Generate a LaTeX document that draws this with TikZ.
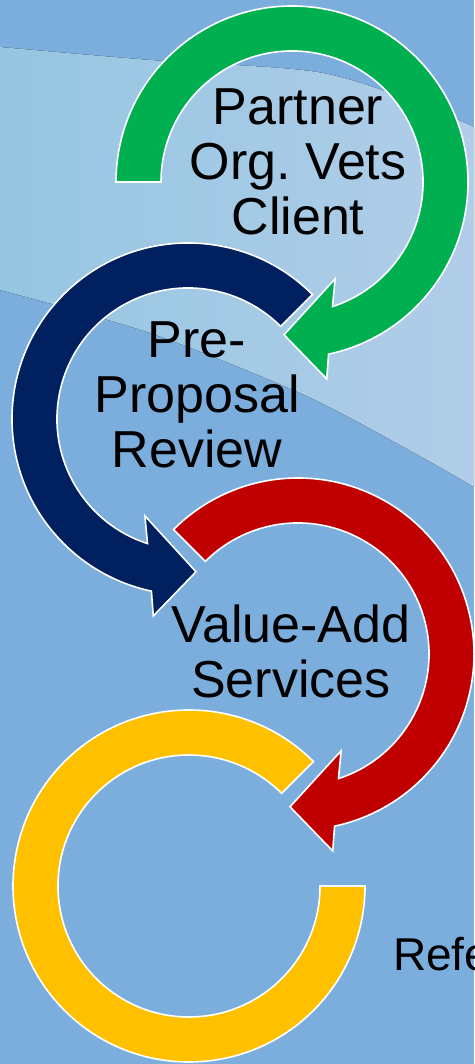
\documentclass[tikz,border=0pt]{standalone}
\usepackage{fontspec}
\setmainfont{Liberation Sans}
\frenchspacing
\definecolor{bgblue}{HTML}{7BAEDC}
\definecolor{swooshL}{HTML}{95C6E2}
\definecolor{swooshR}{HTML}{B1CDE8}
\definecolor{stepgreen}{HTML}{00B050}
\definecolor{stepnavy}{HTML}{002060}
\definecolor{stepred}{HTML}{C00000}
\definecolor{stepyellow}{HTML}{FFC000}
\tikzset{
    ringarrow/.style={draw=white, line width=1.6pt, line join=miter},
    steplabel/.style={align=center, inner sep=0pt, font=\fontsize{52}{55}\selectfont},
}

\begin{document}
\begin{tikzpicture}[x=1pt, y=1pt]
    \useasboundingbox (0,0) rectangle (474,1064);
    \clip (0,0) rectangle (474,1064);
    % background
    \fill[bgblue] (0,0) rectangle (474,1064);
    \fill[left color=swooshL, right color=swooshR]
        plot[smooth] coordinates {(0,1017) (150,1004) (317,992) (417,961) (474,937)}
        -- plot[smooth] coordinates {(474,577) (400,619) (300,671) (150,731) (0,774)} -- cycle;

    % green, clockwise
    \begin{scope}[shift={(292,882)}]
    \draw[ringarrow, fill=stepgreen] (180:176) arc[start angle=180, end angle=-78, radius=176]
        -- (-80:200) -- (-93:153) -- (-66:106) -- (-72:131)
        arc[start angle=-72, end angle=180, radius=131] -- cycle;
    \end{scope}

    % navy, counter clockwise
    \begin{scope}[shift={(188,645)}]
    \draw[ringarrow, fill=stepnavy] (45:176) arc[start angle=45, end angle=258, radius=176]
        -- (260:200) -- (273:153) -- (246:106) -- (252:131)
        arc[start angle=252, end angle=45, radius=131] -- cycle;
    \end{scope}

    % red, clockwise
    \begin{scope}[shift={(298,410)}]
    \draw[ringarrow, fill=stepred] (135:176) arc[start angle=135, end angle=-78, radius=176]
        -- (-80:200) -- (-93:153) -- (-66:106) -- (-72:131)
        arc[start angle=-72, end angle=135, radius=131] -- cycle;
    \end{scope}

    % yellow, no head
    \begin{scope}[shift={(189,178)}]
    \draw[ringarrow, fill=stepyellow] (45:176) arc[start angle=45, end angle=360, radius=176]
        -- (0:131) arc[start angle=360, end angle=45, radius=131] -- cycle;
    \end{scope}

    \node[steplabel, anchor=north] (partner) at (298,975) {Partner\\Org. Vets\\Client};
    \node[steplabel, anchor=north] (preproposal) at (197,742) {Pre-\\Proposal\\Review};
    \node[steplabel, anchor=north] (valueadd) at (291,459) {Value-Add\\Services};
    \node[font=\fontsize{46}{50}\selectfont, anchor=base west, inner sep=0pt] (referral) at (393,93) {Refe};
\end{tikzpicture}
\end{document}
